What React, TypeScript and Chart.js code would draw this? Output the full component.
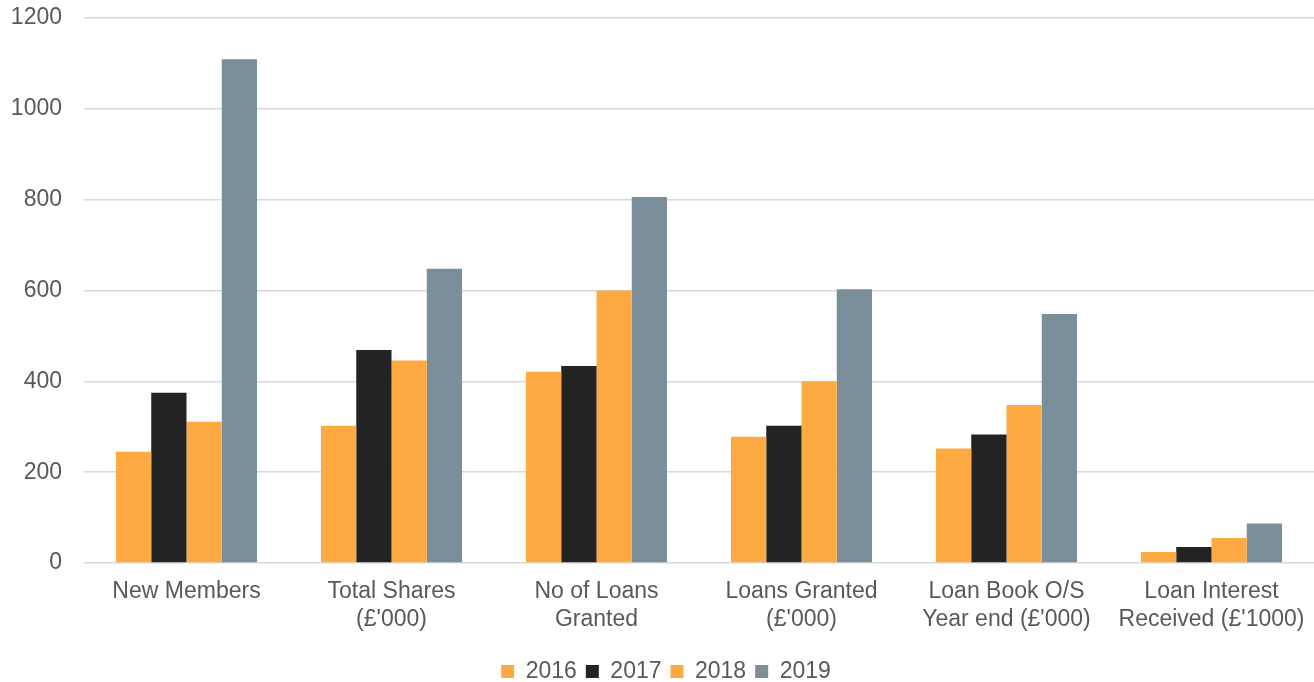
import React, { useEffect, useRef } from "react";
import { Chart, registerables } from "chart.js";

Chart.register(...registerables);

const categories: (string | string[])[] = [
  "New Members",
  ["Total Shares", "(£'000)"],
  ["No of Loans", "Granted"],
  ["Loans Granted", "(£'000)"],
  ["Loan Book O/S", "Year end (£'000)"],
  ["Loan Interest", "Received (£'1000)"],
];

const seriesLabels = ["2016", "2017", "2018", "2019"];
const values2016 = [245, 302, 421, 278, 252, 24];
const values2017 = [375, 469, 434, 302, 283, 35];
const values2018 = [311, 446, 600, 400, 348, 55];
const values2019 = [1109, 648, 806, 603, 548, 87];

const yTicks = [0, 200, 400, 600, 800, 1000, 1200];

const ORANGE = "#FEAA43";
const BLACK = "#232323";
const GREY = "#7A8F9A";

const W = 1314;
const CANVAS_H = 693;

const legendShift = {
  id: "legendShift",
  afterLayout(chart: any) {
    const lg = chart.legend;
    if (lg) {
      lg.left += 9;
      lg.right += 9;
    }
  },
};

export default function App() {
  const ref = useRef<HTMLCanvasElement | null>(null);

  useEffect(() => {
    if (!ref.current) return;
    const font = { family: "'Liberation Sans', Arial, sans-serif", size: 23 };
    const chart = new Chart(ref.current, {
      type: "bar",
      data: {
        labels: categories,
        datasets: [
          { label: seriesLabels[0], data: values2016, backgroundColor: ORANGE },
          { label: seriesLabels[1], data: values2017, backgroundColor: BLACK },
          { label: seriesLabels[2], data: values2018, backgroundColor: ORANGE },
          { label: seriesLabels[3], data: values2019, backgroundColor: GREY },
        ],
      },
      plugins: [legendShift],
      options: {
        animation: false,
        responsive: false,
        maintainAspectRatio: false,
        layout: { padding: { top: 0, left: 0, right: 0, bottom: 0 } },
        datasets: {
          bar: { barPercentage: 1, categoryPercentage: 0.688 },
        },
        scales: {
          x: {
            grid: { display: false, drawTicks: false },
            border: { display: false },
            ticks: {
              color: "#595959",
              font,
              maxRotation: 0,
              autoSkip: false,
              padding: 15,
            },
            afterFit: (axis: any) => {
              axis.height = 88;
              axis.paddingLeft = 0;
              axis.paddingRight = 0;
            },
          },
          y: {
            min: 0,
            max: 1200,
            afterBuildTicks: (axis: any) => {
              axis.ticks = yTicks.map((v) => ({ value: v }));
            },
            grid: { color: "#D9D9D9", lineWidth: 1.5, drawTicks: false },
            border: { display: false },
            ticks: {
              color: "#595959",
              font,
              padding: 22,
              callback: (v: any) => String(v),
            },
            afterFit: (axis: any) => {
              axis.width = 84;
              axis.paddingTop = 18;
              axis.paddingBottom = 0;
            },
          },
        },
        plugins: {
          legend: {
            position: "bottom",
            labels: {
              color: "#595959",
              font,
              boxWidth: 13,
              boxHeight: 13,
              padding: 9,
            },
          },
          tooltip: { enabled: false },
        },
      },
    });
    return () => chart.destroy();
  }, []);

  return (
    <div style={{ position: "absolute", left: 0, top: 0, width: W, height: 682, overflow: "hidden", background: "#fff" }}>
      <canvas ref={ref} width={W} height={CANVAS_H} style={{ width: W, height: CANVAS_H, display: "block" }} />
    </div>
  );
}
